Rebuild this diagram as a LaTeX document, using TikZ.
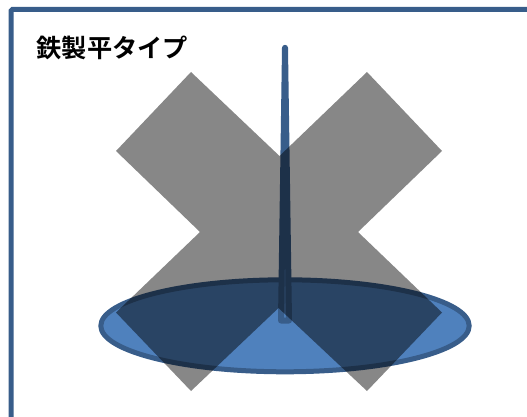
\documentclass[tikz,border=0pt]{standalone}
\usepackage{fontspec}
\newfontfamily\cjkbold[BoldFont=Noto Sans CJK JP Bold]{Noto Sans CJK JP}
\definecolor{strokeblue}{HTML}{385D8A}
\definecolor{fillblue}{HTML}{4F81BD}
\tikzset{
  framebox/.style={draw=strokeblue,line width=5pt,rounded corners=1.5pt,fill=white},
  disc/.style={draw=strokeblue,line width=5pt,fill=fillblue},
  needle/.style={draw=strokeblue,line width=6pt,line join=round,fill=fillblue},
  crossx/.style={fill=black,fill opacity=0.47},
  titletext/.style={font=\cjkbold\bfseries\fontsize{25.2pt}{28pt}\selectfont,text=black,inner sep=0pt,anchor=west}
}
\begin{document}
\begin{tikzpicture}[x=1pt,y=-1pt]
\useasboundingbox (0,0) rectangle (527,417);
\begin{scope}
\clip (0,0) rectangle (527,417);
\draw[framebox] (11,9.5) rectangle (560,450);
\draw[disc] (285,325.8) ellipse [x radius=184.2,y radius=46];
\draw[needle] (285,47.8) -- (289,320.5) -- (281,320.5) -- cycle;
\fill[crossx] (191,72) -- (279.5,156) -- (367,72) -- (442,151) -- (358,232) -- (442,312.5) -- (367,391) -- (278.5,308) -- (191,391) -- (116,312.5) -- (200,232) -- (116,151) -- cycle;
\end{scope}
\node[titletext] (title) at (36.5,47.5) {鉄製平タイプ};
\end{tikzpicture}
\end{document}
